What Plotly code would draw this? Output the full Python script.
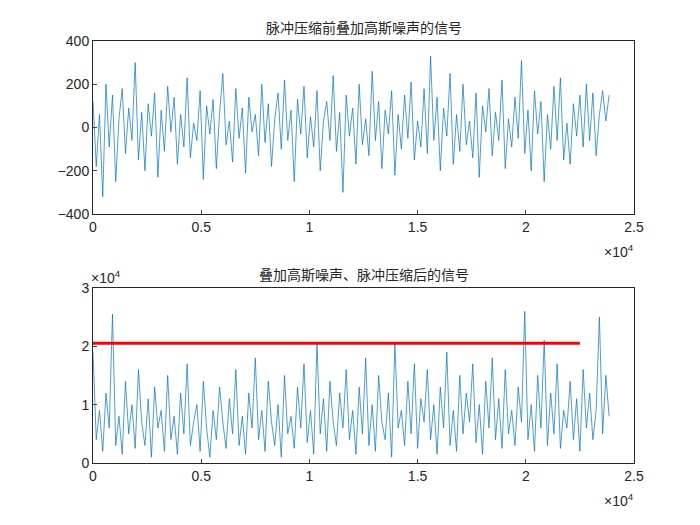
import plotly.graph_objects as go

step = 150
top_vals = [120,-180,60,-320,200,-90,150,-250,40,180,-120,90,-60,300,-150,70,-200,110,-40,160,
-230,80,-110,190,-20,140,-170,60,-90,230,-140,20,-60,170,-240,100,-30,130,-190,70,
250,-80,30,-160,180,-50,90,-210,140,-20,60,-130,200,-70,110,-180,40,160,-100,220,
-60,80,-250,130,-30,190,-140,50,-90,170,-200,30,120,-60,240,-110,70,-300,150,-40,
90,-170,200,-80,40,-130,260,-60,120,-190,80,-30,170,-220,60,-100,150,-50,210,-150,
30,-90,180,-120,330,-60,140,-200,90,-40,250,-170,60,-110,200,-80,30,-140,160,-230,
100,-20,180,-130,70,-60,220,-190,40,-90,140,-50,310,-120,80,-200,170,-30,120,-250,
60,-100,190,-60,230,-150,20,-170,110,-40,150,-90,200,-60,160,-130,60,170,30,150]
bot_vals = [19000,4000,9000,2000,12000,6000,25500,3000,8000,1500,14000,5000,10000,2500,16000,7000,3000,11000,1000,13000,
6000,9000,2000,15000,4000,8000,1500,12000,5000,17000,3000,7000,10000,2000,14000,6000,1000,9000,4000,13000,
7000,2500,11000,5000,16000,3000,8000,1500,12000,6000,18000,4000,9000,2000,14000,7000,3000,10000,1000,15000,
5000,8000,2500,13000,6000,17000,3500,9000,1500,20500,5000,11000,2000,14000,7000,3000,12000,6000,16000,4000,
9000,1500,13000,5000,18000,3000,10000,2000,15000,7000,4000,12000,1000,20500,6000,9000,3000,14000,5000,17000,
2500,11000,7000,16000,4000,10000,1500,13000,6000,19000,3000,9000,2000,15000,5000,12000,7000,17000,3500,10000,
1500,14000,6000,18000,4000,11000,2500,16000,5000,9000,3000,13000,7000,26000,4000,10000,2000,15000,6000,21000,
3000,12000,5000,17000,2500,9000,6000,14000,4000,11000,2000,16000,6000,12000,4000,9000,25000,5000,15000,8000]
x = [i * step for i in range(len(top_vals))]
xb = [i * step for i in range(len(bot_vals))]
thr_x = [0, 22500]
thr_y = [20500, 20500]

blue = "#0072BD"
fig = go.Figure()
fig.add_trace(go.Scatter(x=x, y=top_vals, mode="lines", line=dict(color=blue, width=0.7), xaxis="x", yaxis="y"))
fig.add_trace(go.Scatter(x=xb, y=bot_vals, mode="lines", line=dict(color=blue, width=0.7), xaxis="x2", yaxis="y2"))
fig.add_trace(go.Scatter(x=thr_x, y=thr_y, mode="lines", line=dict(color="red", width=3), xaxis="x2", yaxis="y2"))

xt = [0, 5000, 10000, 15000, 20000, 25000]
xtt = ["0", "0.5", "1", "1.5", "2", "2.5"]
ax = dict(showline=True, linecolor="#262626", mirror=True, ticks="inside", ticklen=4, automargin=False,
          showgrid=False, zeroline=False, tickfont=dict(size=14, color="#262626"))
fs = dict(size=14, color="#262626")
fig.update_layout(
    width=700, height=525, showlegend=False, plot_bgcolor="white", paper_bgcolor="white",
    margin=dict(l=85, r=74, t=33, b=70),
    font=dict(family="Liberation Sans"),
    xaxis=dict(ax, range=[0, 25000], tickvals=xt, ticktext=xtt, anchor="y"),
    yaxis=dict(ax, range=[-400, 400], dtick=200, domain=[0.59, 1]),
    xaxis2=dict(ax, range=[0, 25000], tickvals=xt, ticktext=xtt, anchor="y2"),
    yaxis2=dict(ax, range=[0, 30000], tickvals=[0, 10000, 20000, 30000], ticktext=["0", "1", "2", "3"], domain=[0, 0.415]),
    annotations=[
        dict(text="脉冲压缩前叠加高斯噪声的信号", x=0.5, y=1.0, xref="paper", yref="paper", yanchor="bottom", showarrow=False, yshift=2,
             font=dict(family="Noto Sans CJK SC", size=14, color="#262626")),
        dict(text="叠加高斯噪声、脉冲压缩后的信号", x=0.5, y=0.415, xref="paper", yref="paper", yanchor="bottom", showarrow=False, yshift=2,
             font=dict(family="Noto Sans CJK SC", size=14, color="#262626")),
        dict(text="×10<sup>4</sup>", x=1.0, y=0.59, xref="paper", yref="paper", xanchor="right", yanchor="top", showarrow=False, yshift=-26, xshift=2, font=fs),
        dict(text="×10<sup>4</sup>", x=1.0, y=0, xref="paper", yref="paper", xanchor="right", yanchor="top", showarrow=False, yshift=-26, xshift=2, font=fs),
        dict(text="×10<sup>4</sup>", x=0, y=0.415, xref="paper", yref="paper", xanchor="left", yanchor="bottom", showarrow=False, yshift=0, xshift=-4, font=fs),
    ],
)
fig.write_html("out.html")
